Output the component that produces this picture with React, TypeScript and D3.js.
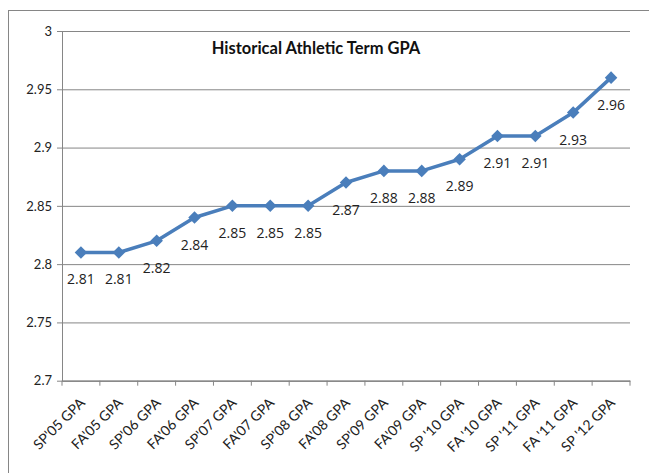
import React, { useEffect, useRef } from "react";
import * as d3 from "d3";

// terms and their GPA values
const terms = [
  "SP'05 GPA", "FA'05 GPA", "SP'06 GPA", "FA'06 GPA", "SP'07 GPA",
  "FA'07 GPA", "SP'08 GPA", "FA'08 GPA", "SP'09 GPA", "FA'09 GPA",
  "SP '10 GPA", "FA '10 GPA", "SP '11 GPA", "FA '11 GPA", "SP '12 GPA",
];
const gpa = [2.81, 2.81, 2.82, 2.84, 2.85, 2.85, 2.85, 2.87, 2.88, 2.88, 2.89, 2.91, 2.91, 2.93, 2.96];
const yTicks = [2.7, 2.75, 2.8, 2.85, 2.9, 2.95, 3];
const title = "Historical Athletic Term GPA";

const width = 649, height = 473;
const left = 62, right = 630, top = 31, bottom = 380.7;
const blue = "#4a7ebb";
const grey = "#868686";

const App = () => {
  const ref = useRef<SVGSVGElement>(null);

  useEffect(() => {
    const svg = d3.select(ref.current);
    svg.selectAll("*").remove();

    // outer chart frame, runs off the right and bottom edge
    svg.append("rect")
      .attr("x", 8.5).attr("y", 10.5)
      .attr("width", 700).attr("height", 500)
      .attr("fill", "white")
      .attr("stroke", grey);

    const x = d3.scaleBand().domain(terms).range([left, right]);
    const y = d3.scaleLinear().domain([2.7, 3]).range([bottom, top]);

    // gridlines + y axis
    const yAxis = d3.axisLeft(y)
      .tickValues(yTicks)
      .tickSize(-(right - left))
      .tickFormat((d) => d3.format("")(+(+d).toFixed(2)));
    const gy = svg.append("g")
      .attr("transform", `translate(${left},0)`)
      .call(yAxis);
    gy.select(".domain").attr("stroke", grey);
    gy.selectAll(".tick line").attr("stroke", grey).attr("x1", -5);
    gy.selectAll(".tick text")
      .attr("x", -10)
      .attr("fill", "#222")
      .style("font-family", "Lato, sans-serif")
      .style("font-size", "13px");

    // x axis
    const xAxis = d3.axisBottom(x).tickSize(0);
    const gx = svg.append("g")
      .attr("transform", `translate(0,${bottom})`)
      .call(xAxis);
    gx.select(".domain").attr("stroke", grey);
    gx.selectAll(".tick text")
      .attr("fill", "#222")
      .attr("text-anchor", "end")
      .attr("dy", 0)
      .attr("y", 0)
      .attr("transform", "translate(5,23) rotate(-45)")
      .style("font-family", "Lato, sans-serif")
      .style("font-size", "14px");
    // tick marks sit on the category boundaries
    const bounds = d3.range(terms.length + 1).map((i) => left + i * x.step());
    gx.selectAll("line.bound")
      .data(bounds)
      .enter()
      .append("line")
      .attr("class", "bound")
      .attr("x1", (d) => d).attr("x2", (d) => d)
      .attr("y1", 0).attr("y2", 5)
      .attr("stroke", grey);

    const cx = (d: string) => (x(d) as number) + x.bandwidth() / 2;

    const line = d3.line<number>()
      .x((d, i) => cx(terms[i]))
      .y((d) => y(d));

    svg.append("path")
      .datum(gpa)
      .attr("d", line)
      .attr("fill", "none")
      .attr("stroke", blue)
      .attr("stroke-width", 3.5)
      .attr("stroke-linejoin", "round");

    svg.selectAll("path.marker")
      .data(gpa)
      .enter()
      .append("path")
      .attr("class", "marker")
      .attr("d", d3.symbol().type(d3.symbolDiamond2).size(100))
      .attr("transform", (d, i) => `translate(${cx(terms[i])},${y(d)})`)
      .attr("fill", blue);

    svg.selectAll("text.lbl")
      .data(gpa)
      .enter()
      .append("text")
      .attr("class", "lbl")
      .attr("x", (d, i) => cx(terms[i]))
      .attr("y", (d) => y(d) + 32)
      .attr("text-anchor", "middle")
      .attr("fill", "#222")
      .style("font-family", "'Open Sans', sans-serif")
      .style("font-size", "14px")
      .text((d) => d.toFixed(2));

    svg.append("text")
      .attr("x", 316)
      .attr("y", 54)
      .attr("text-anchor", "middle")
      .attr("fill", "#111")
      .style("font-family", "Lato, sans-serif")
      .style("font-weight", "bold")
      .style("font-size", "16.5px")
      .text(title);
  }, []);

  return (
    <svg
      ref={ref}
      width={width}
      height={height}
      style={{ position: "absolute", left: 0, top: 0, background: "white" }}
    />
  );
};

export default App;
